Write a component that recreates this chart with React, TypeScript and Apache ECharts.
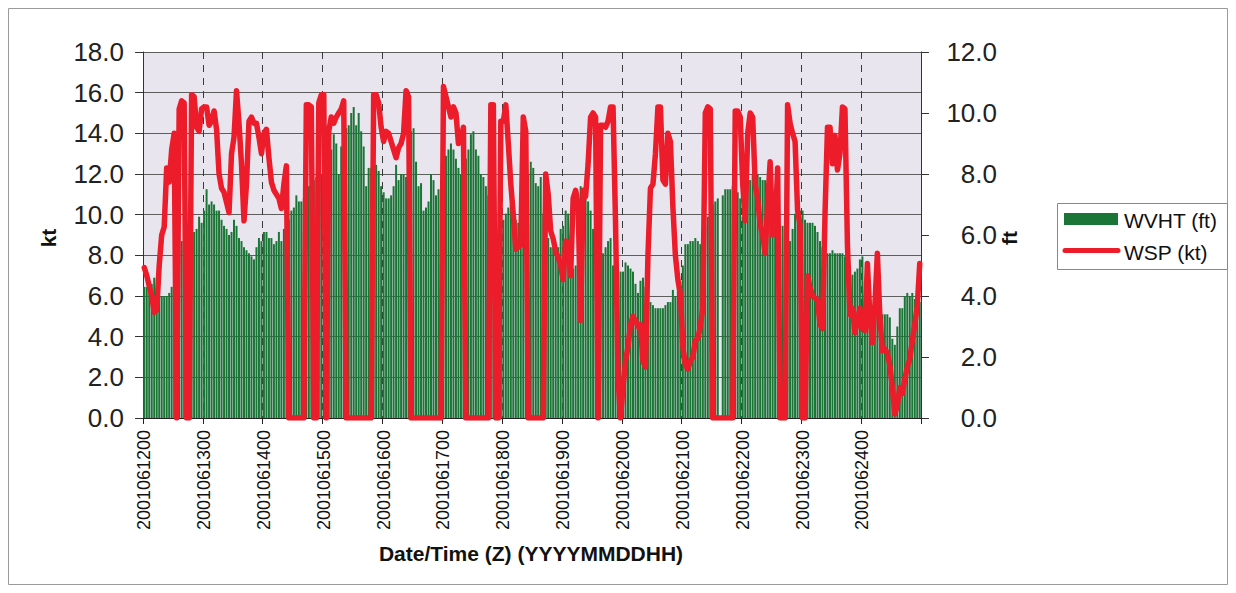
import React, { useEffect, useRef } from 'react';
import * as echarts from 'echarts';

const FONT = '"Liberation Sans", Arial, Helvetica, sans-serif';

// Category labels: YYYYMMDDHH, hourly
const DAYS = ['12', '13', '14', '15', '16', '17', '18', '19', '20', '21', '22', '23', '24'];
const HOURS = ['00', '01', '02', '03', '04', '05', '06', '07', '08', '09', '10', '11',
  '12', '13', '14', '15', '16', '17', '18', '19', '20', '21', '22', '23'];
const CATEGORIES = DAYS.flatMap((d) => HOURS.map((h) => `200106${d}${h}`));

// Wave height (ft), right axis
const WVHT = [
  // 12
  4.3, 4.3, 4.2, 4.4, 4.6, 4.1, 4.0, 4.0, 4.0, 4.0, 4.1, 4.3, 4.5, 5.0, 5.5, 5.8, 5.6, 5.9, 6.0, 6.1, 6.1, 6.2, 6.6, 6.4,
  // 13
  6.8, 7.5, 7.0, 7.1, 7.0, 6.8, 6.8, 6.5, 6.3, 6.2, 6.0, 6.1, 6.5, 6.3, 5.9, 5.8, 5.6, 5.5, 5.4, 5.3, 5.2, 5.6, 5.9, 5.8,
  // 14
  6.1, 6.1, 5.9, 5.9, 5.7, 5.8, 6.1, 5.8, 6.2, 6.0, 6.5, 6.8, 6.9, 7.3, 7.1, 7.1, 7.2, 7.5, 7.6, 7.7, 7.8, 7.9, 7.9, 8.0,
  // 15
  8.3, 8.1, 8.5, 8.8, 9.3, 9.0, 8.0, 8.9, 9.0, 9.5, 9.6, 10.0, 10.2, 9.6, 10.0, 9.4, 8.9, 7.6, 8.2, 8.2, 7.5, 8.3, 8.1, 7.6,
  // 16
  7.4, 7.2, 7.2, 7.3, 7.6, 8.3, 7.8, 8.0, 8.0, 7.9, 8.6, 9.4, 9.5, 8.4, 7.6, 7.7, 6.8, 6.9, 7.1, 8.0, 7.8, 7.3, 7.5, 7.3,
  // 17
  8.4, 8.6, 8.8, 9.0, 8.8, 8.5, 8.2, 8.0, 8.3, 8.5, 8.8, 9.3, 9.4, 8.8, 8.6, 8.0, 7.9, 7.6, 7.3, 6.8, 6.4, 6.1, 6.0, 6.2,
  // 18
  6.5, 6.7, 6.9, 7.0, 6.8, 6.5, 6.4, 6.8, 7.2, 7.6, 8.0, 8.4, 8.2, 7.7, 7.6, 7.9, 6.7, 6.3, 5.9, 5.6, 5.6, 5.5, 5.6, 6.2,
  // 19
  6.3, 6.8, 6.7, 6.0, 4.9, 5.0, 6.5, 7.6, 7.5, 7.2, 7.1, 6.8, 6.2, 5.8, 5.5, 5.3, 5.4, 5.6, 5.8, 5.9, 5.0, 4.8, 4.7, 4.8,
  // 20
  4.8, 5.1, 5.0, 4.9, 4.8, 4.4, 4.1, 4.5, 4.6, 4.3, 4.0, 3.8, 3.7, 3.6, 3.6, 3.6, 3.6, 3.7, 3.8, 3.8, 4.2, 4.0, 4.3, 4.5,
  // 21
  5.0, 5.7, 5.7, 5.8, 5.8, 5.9, 5.8, 5.7, 6.0, 6.3, 6.6, 6.9, 7.0, 7.1, 7.2, 0, 7.3, 7.5, 7.5, 7.5, 7.6, 7.6, 7.4, 7.2,
  // 22
  6.6, 6.5, 7.9, 7.8, 8.0, 8.0, 8.0, 7.9, 7.8, 7.8, 7.5, 7.3, 7.0, 6.5, 6.4, 6.3, 6.3, 6.1, 6.0, 5.8, 6.2, 6.7, 6.9, 6.8,
  // 23
  6.8, 6.5, 6.4, 6.4, 6.4, 6.3, 6.1, 5.8, 5.6, 5.4, 5.4, 5.4, 5.5, 5.4, 5.4, 5.4, 5.4, 5.3, 4.8, 4.7, 4.7, 4.8, 4.9, 5.2,
  // 24
  5.3, 4.5, 4.2, 4.0, 3.7, 3.6, 3.6, 3.5, 3.4, 3.4, 3.4, 3.3, 2.6, 2.4, 3.0, 3.6, 3.6, 4.0, 4.1, 4.0, 4.1, 3.9, 3.9, 3.8,
];

// Wind speed (kt), left axis
const WSP = [
  // 12
  7.4, 7.0, 6.5, 6.0, 5.2, 5.3, 7.5, 9.0, 9.4, 12.3, 11.6, 13.2, 14.0, 0, 15.2, 15.6, 15.5, 0, 0, 15.9, 15.8, 14.3, 14.1, 15.2,
  // 13
  15.3, 15.3, 14.4, 14.6, 15.1, 14.2, 12.0, 11.3, 11.1, 10.6, 10.1, 13.0, 13.8, 16.1, 14.5, 12.5, 9.7, 11.5, 14.6, 14.8, 14.5, 14.5, 13.8, 13.0,
  // 14
  14.0, 14.2, 12.8, 11.6, 11.2, 11.0, 10.8, 10.3, 11.5, 12.4, 0, 0, 0, 0, 0, 0, 0, 15.4, 15.4, 15.3, 0, 0, 15.5, 15.9,
  // 15
  15.9, 0, 14.1, 14.8, 14.5, 14.8, 15.0, 15.2, 15.6, 0, 0, 0, 0, 0, 0, 0, 0, 0, 0, 0, 15.9, 15.9, 15.5, 14.3,
  // 16
  13.6, 14.1, 14.0, 13.6, 13.2, 12.8, 13.3, 13.5, 14.0, 16.1, 15.8, 0, 0, 0, 0, 0, 0, 0, 0, 0, 0, 0, 0, 0,
  // 17
  16.3, 15.8, 15.3, 14.8, 15.3, 15.0, 13.5, 13.7, 14.3, 0, 0, 0, 0, 0, 0, 0, 0, 0, 0, 15.4, 15.4, 0, 0, 14.6,
  // 18
  14.6, 15.4, 13.5, 11.5, 10.0, 8.3, 8.4, 8.5, 14.8, 14.1, 0, 0, 0, 0, 0, 0, 0, 12.0, 11.0, 9.2, 8.8, 8.2, 7.9, 7.5,
  // 19
  6.8, 8.7, 8.6, 7.0, 10.8, 11.2, 10.5, 4.8, 11.2, 10.9, 12.5, 14.8, 15.0, 14.8, 0, 14.4, 14.4, 14.3, 14.6, 15.3, 15.3, 9.6, 2.0, 0.0,
  // 20
  1.5, 2.8, 3.5, 4.6, 5.0, 4.8, 4.5, 4.6, 2.8, 2.5, 8.0, 11.3, 11.5, 13.0, 15.3, 15.3, 11.7, 11.5, 14.0, 13.6, 10.4, 8.0, 6.8, 6.1,
  // 21
  3.5, 2.6, 2.4, 2.8, 3.0, 3.8, 3.9, 4.5, 5.4, 15.0, 15.3, 15.2, 0, 0, 0, 0, 0, 0, 0, 0, 0, 15.1, 15.1, 14.8,
  // 22
  11.5, 9.7, 14.0, 15.0, 14.8, 11.5, 10.8, 9.5, 9.0, 8.1, 10.5, 12.6, 9.0, 9.2, 12.3, 0, 0, 0, 15.4, 14.5, 14.0, 13.6, 10.2, 9.5,
  // 23
  0, 0, 7.0, 6.4, 6.0, 5.9, 5.8, 4.6, 4.4, 10.0, 14.3, 14.3, 12.5, 13.9, 12.2, 13.0, 15.3, 15.2, 8.5, 5.1, 5.4, 4.2, 4.8, 5.4,
  // 24
  4.4, 4.3, 7.6, 5.0, 3.7, 5.5, 8.1, 5.0, 3.3, 3.4, 3.2, 2.6, 1.5, 0.2, 0.6, 1.5, 1.2, 1.9, 2.5, 2.9, 3.8, 4.6, 5.5, 7.6,
];

const KT_TICKS = { min: 0, max: 18, step: 2 };
const FT_TICKS = { min: 0, max: 12, step: 2 };

const SERIES_NAMES = ['WVHT (ft)', 'WSP (kt)'];
const BAR_COLOR = '#1b7536';
const LINE_COLOR = '#ec1c2a';

export default function App() {
  const ref = useRef<HTMLDivElement>(null);

  useEffect(() => {
    if (!ref.current) return;
    const chart = echarts.init(ref.current, undefined, { renderer: 'svg' });
    const fmt = (v: number) => v.toFixed(1);
    chart.setOption({
      animation: false,
      backgroundColor: '#ffffff',
      textStyle: { fontFamily: FONT },
      grid: {
        left: 135, top: 44, width: 778, height: 366,
        show: true, backgroundColor: '#e8e5ee', borderWidth: 0,
      },
      xAxis: {
        type: 'category',
        data: CATEGORIES,
        boundaryGap: true,
        axisLine: { lineStyle: { color: '#222', width: 1 } },
        axisTick: { show: true, interval: 23, length: 6, lineStyle: { color: '#222' } },
        axisLabel: {
          interval: 23, rotate: 90, fontSize: 18, color: '#111', margin: 12, fontFamily: FONT,
        },
        splitLine: {
          show: true, interval: 23,
          lineStyle: { color: '#3a3a3a', type: [7, 6], width: 1 },
        },
      },
      yAxis: [
        {
          type: 'value', position: 'left',
          min: KT_TICKS.min, max: KT_TICKS.max, interval: KT_TICKS.step,
          axisLine: { show: true, lineStyle: { color: '#333' } },
          axisTick: { show: true, length: 8, lineStyle: { color: '#333' } },
          axisLabel: { formatter: fmt, fontSize: 26, color: '#222', margin: 19, fontFamily: FONT },
          splitLine: { show: true, lineStyle: { color: '#5e5e5e', width: 1 } },
        },
        {
          type: 'value', position: 'right',
          min: FT_TICKS.min, max: FT_TICKS.max, interval: FT_TICKS.step,
          axisLine: { show: true, lineStyle: { color: '#333' } },
          axisTick: { show: true, length: 8, lineStyle: { color: '#333' } },
          axisLabel: {
            formatter: fmt, fontSize: 26, color: '#222', margin: 76, align: 'right', fontFamily: FONT,
          },
          splitLine: { show: false },
        },
      ],
      series: [
        {
          name: SERIES_NAMES[0], type: 'bar', yAxisIndex: 1, data: WVHT,
          barCategoryGap: '20%', itemStyle: { color: BAR_COLOR },
        },
        {
          name: SERIES_NAMES[1], type: 'line', yAxisIndex: 0, data: WSP,
          symbol: 'none', z: 5,
          lineStyle: { color: LINE_COLOR, width: 5.5, cap: 'round', join: 'round' },
        },
      ],
      graphic: {
        elements: [
          {
            type: 'rect', shape: { x: 0.5, y: 0.5, width: 1219, height: 576 },
            style: { fill: 'none', stroke: '#9a9a9a', lineWidth: 1 }, silent: true,
          },
          {
            type: 'text', x: 40, y: 230, rotation: Math.PI / 2,
            style: {
              text: 'kt', fill: '#111', fontSize: 21, fontWeight: 'bold', fontFamily: FONT,
              align: 'center', verticalAlign: 'middle',
            },
          },
          {
            type: 'text', x: 1001, y: 230, rotation: Math.PI / 2,
            style: {
              text: 'ft', fill: '#111', fontSize: 21, fontWeight: 'bold', fontFamily: FONT,
              align: 'center', verticalAlign: 'middle',
            },
          },
          {
            type: 'text', x: 523, y: 545,
            style: {
              text: 'Date/Time (Z) (YYYYMMDDHH)', fill: '#111', fontSize: 21, fontWeight: 'bold',
              fontFamily: FONT, align: 'center', verticalAlign: 'middle',
            },
          },
          {
            type: 'group', x: 1049, y: 195,
            children: [
              {
                type: 'rect', shape: { x: 0.5, y: 0.5, width: 170, height: 66 },
                style: { fill: '#ffffff', stroke: '#888', lineWidth: 1 },
              },
              {
                type: 'rect', shape: { x: 7, y: 10, width: 54, height: 12 },
                style: { fill: BAR_COLOR },
              },
              {
                type: 'line', shape: { x1: 8, y1: 47.5, x2: 61, y2: 47.5 },
                style: { stroke: LINE_COLOR, lineWidth: 5, lineCap: 'round' },
              },
              {
                type: 'text', x: 67, y: 17,
                style: {
                  text: SERIES_NAMES[0], fill: '#111', fontSize: 21, fontFamily: FONT,
                  align: 'left', verticalAlign: 'middle',
                },
              },
              {
                type: 'text', x: 67, y: 49,
                style: {
                  text: SERIES_NAMES[1], fill: '#111', fontSize: 21, fontFamily: FONT,
                  align: 'left', verticalAlign: 'middle',
                },
              },
            ],
          },
        ],
      },
    });
    return () => chart.dispose();
  }, []);

  return <div ref={ref} style={{ width: 1220, height: 577 }} />;
}
